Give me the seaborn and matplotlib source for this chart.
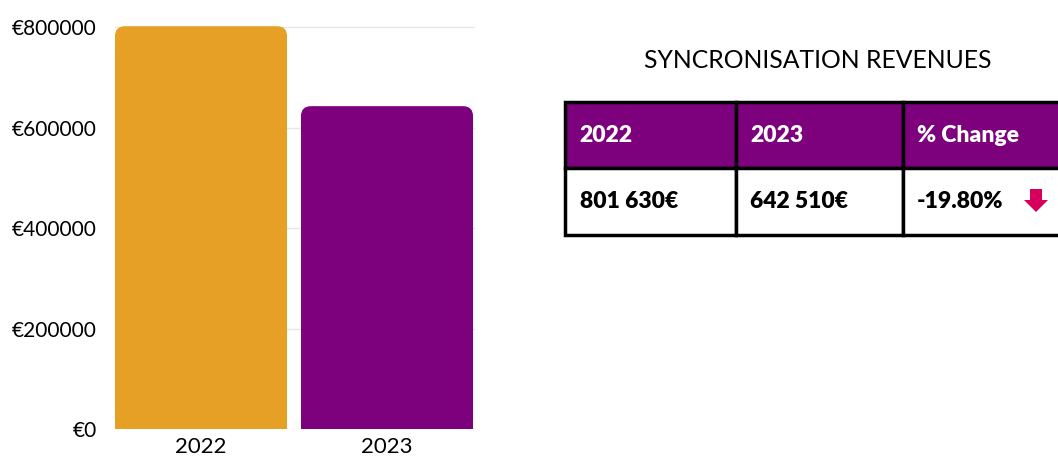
import numpy as np
import pandas as pd
import matplotlib.pyplot as plt
import seaborn as sns
from matplotlib.patches import FancyBboxPatch, Rectangle, Polygon

# input data
years = ['2022', '2023']
revenues = [801630, 642510]
bar_colors = ['#E6A026', '#7D007D']
y_ticks = [0, 200000, 400000, 600000, 800000]
title = 'SYNCRONISATION REVENUES'
header = ['2022', '2023', '% Change']
row = ['801 630€', '642 510€', '-19.80%']

sns.set_style('white')
plt.rcParams['font.family'] = ['Lato', 'DejaVu Sans']
plt.rcParams['text.color'] = 'black'

df = pd.DataFrame({'Year': years, 'Revenue': revenues})

W, H = 1058, 459
fig = plt.figure(figsize=(W / 100, H / 100), dpi=100)
ax = fig.add_axes([115 / W, 1 - 429 / H, 360 / W, (429 - 22) / H])

# draw the plot
sns.barplot(data=df, x='Year', y='Revenue', hue='Year', palette=bar_colors,
            width=0.925, legend=False, ax=ax)
ax.set_ylim(0, 810000)
ax.set_xlim(-0.4624, 1.4731)

# replace bars with top-rounded versions
px_x = 1.935 / 360
px_y = 810000 / 407
r = 10
for bar, c in zip(list(ax.patches), bar_colors):
    x0, w, h = bar.get_x(), bar.get_width(), bar.get_height()
    bar.set_visible(False)
    ax.add_patch(FancyBboxPatch((x0, 0), w, h,
                                boxstyle=f'round,pad=0,rounding_size={r * px_x}',
                                mutation_aspect=px_y / px_x, fc=c, ec='none',
                                clip_on=False, zorder=3))
    ax.add_patch(Rectangle((x0, 0), w, h - r * px_y * 1.5, fc=c, ec='none', zorder=3))

ax.set_yticks(y_ticks)
ax.set_yticklabels(['€' + str(v) for v in y_ticks])
ax.yaxis.grid(True, color='#e8e8e8', linewidth=1)
ax.set_axisbelow(True)
ax.tick_params(axis='both', length=0, labelsize=15, colors='black')
ax.tick_params(axis='y', pad=13)
ax.tick_params(axis='x', pad=6, labelsize=16)
ax.set_xlabel('')
ax.set_ylabel('')
sns.despine(ax=ax, left=True, bottom=True)

# title and table on the right
fig.text(818 / W, 1 - 60 / H, title, ha='center', va='center', fontsize=17.8)

tax = fig.add_axes([565 / W, 1 - 235 / H, 505 / W, 133 / H])
tax.axis('off')
tbl = tax.table(cellText=[header, row], cellLoc='left', bbox=[0, 0, 1, 1],
                colWidths=[171, 167, 167])
tbl.auto_set_font_size(False)
for (i, j), cell in tbl.get_celld().items():
    cell.set_linewidth(2.5)
    cell.set_edgecolor('black')
    cell.PAD = 0.085
    cell.get_text().set_fontsize(16.5)
    cell.get_text().set_fontweight('heavy')
    if i == 0:
        cell.set_facecolor('#7D007D')
        cell.get_text().set_color('white')
    else:
        cell.set_facecolor('white')
        cell.get_text().set_color('black')

# down arrow next to % change
ax_px = lambda x, y: ((x - 565) / 505, (235 - y) / 133)
arrow = [ax_px(1030, 189), ax_px(1042, 189), ax_px(1042, 200), ax_px(1048, 200),
         ax_px(1036, 212), ax_px(1024, 200), ax_px(1030, 200)]
tax.add_patch(Polygon(arrow, closed=True, fc='#D6005C', ec='none',
                      transform=tax.transAxes, clip_on=False, zorder=5))

plt.savefig('out.png', dpi=100)
